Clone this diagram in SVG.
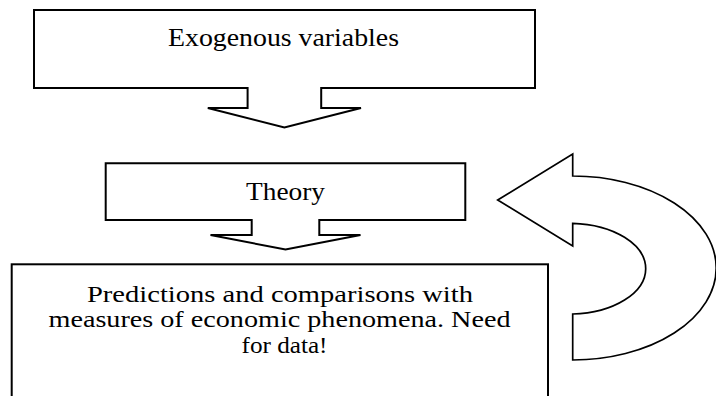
<svg xmlns="http://www.w3.org/2000/svg" width="716" height="396" viewBox="0 0 716 396">
  <style>
    .shape { fill: #ffffff; stroke: #000000; stroke-width: 2; stroke-linejoin: miter; }
    .curve { fill: #ffffff; stroke: #000000; stroke-width: 1.7; stroke-linejoin: miter; }
    .label { font-family: "Liberation Serif", "DejaVu Serif", serif; font-size: 26px; fill: #000000; text-anchor: middle; }
    .para { font-family: "Liberation Serif", "DejaVu Serif", serif; font-size: 24px; fill: #000000; text-anchor: middle; }
  </style>
  <rect x="0" y="0" width="716" height="396" fill="#ffffff"/>
  <g id="exogenous">
    <path class="shape" d="M34,10 H535 V88 H321.2 V108 H361 L284.4,127.5 L207.8,108 H247.6 V88 H34 Z"/>
    <text class="label" x="283.5" y="45.5" textLength="231" lengthAdjust="spacingAndGlyphs">Exogenous variables</text>
  </g>
  <g id="theory">
    <path class="shape" d="M105.7,163.3 H465.3 V220 H319.3 V235 H360.5 L285.5,249.5 L210.5,235 H251.7 V220 H105.7 Z"/>
    <text class="label" x="285.5" y="200" textLength="79" lengthAdjust="spacingAndGlyphs">Theory</text>
  </g>
  <g id="predictions">
    <rect class="shape" x="11.7" y="264.3" width="536.3" height="140"/>
    <text class="para" x="280" y="301.5" textLength="386" lengthAdjust="spacingAndGlyphs">Predictions and comparisons with</text>
    <text class="para" x="279.5" y="327" textLength="462" lengthAdjust="spacingAndGlyphs">measures of economic phenomena. Need</text>
    <text class="para" x="284.5" y="352.5" textLength="86" lengthAdjust="spacingAndGlyphs">for data!</text>
  </g>
  <g id="connectors">
    <path id="feedback-arrow" class="curve" d="M497.7,200 L572.7,154 V176 A143.5,92 0 0 1 572.7,360 V314 A76.6,45.4 0 0 0 572.7,223.3 V246 Z"/>
  </g>
</svg>
